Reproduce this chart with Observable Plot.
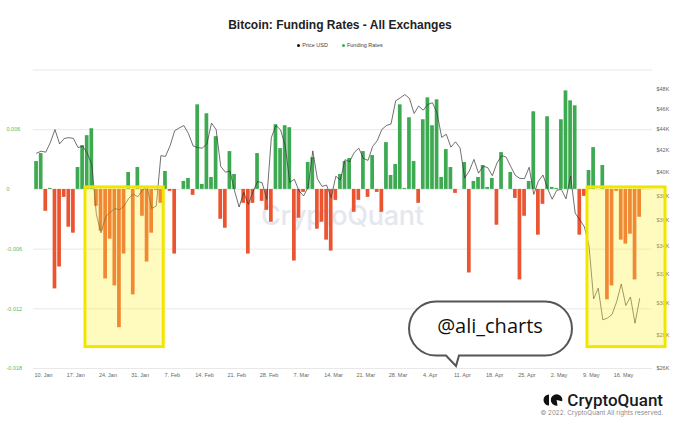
<!DOCTYPE html>
<html>
<head>
<meta charset="utf-8">
<script src="https://cdn.jsdelivr.net/npm/d3@7"></script>
<script src="https://cdn.jsdelivr.net/npm/@observablehq/plot@0.6"></script>
<style>
  html, body { margin: 0; padding: 0; background: #fff; }
  #wrap { position: relative; width: 680px; height: 428px; overflow: hidden; font-family: "Liberation Sans", Arial, sans-serif; }
  .layer { position: absolute; left: 0; top: 0; }
  .layer svg { max-width: none !important; }
  #title { position: absolute; top: 18px; left: 0; width: 680px; text-align: center; font-weight: bold; font-size: 12px; color: #222; }
  #legend { position: absolute; top: 42px; left: 0; width: 680px; text-align: center; font-size: 5.5px; color: #444; }
  #legend span { margin: 0 7px; }
  #legend i { display: inline-block; width: 3px; height: 3px; border-radius: 50%; margin-right: 2px; vertical-align: middle; }
  #wm { position: absolute; left: 261px; top: 199px; font-family: Inter, "Open Sans", sans-serif; font-weight: 500; font-size: 27px; color: #e5e7ee; letter-spacing: -0.3px; }
  #logo { position: absolute; right: 17px; top: 390px; display: flex; align-items: center; }
  #logo span { font-family: Roboto, "Open Sans", sans-serif; font-weight: 500; font-size: 17px; color: #1b1b1b; margin-left: 4px; line-height: 20px; }
  #copy { position: absolute; right: 17px; top: 409px; font-family: Inter, "Open Sans", sans-serif; font-size: 6.3px; color: #8a8a8a; }
  #bubble-text { position: absolute; left: 410px; width: 160px; top: 312px; text-align: center; font-family: "Open Sans", sans-serif; font-size: 20px; color: #111; }
</style>
</head>
<body>
<div id="wrap">
  <div id="wm">CryptoQuant</div>
  <div id="bars" class="layer"></div>
  <div id="price" class="layer"></div>
  <div id="boxes" class="layer"></div>
  <svg class="layer" width="680" height="428" id="deco">
    <path d="M436 301.5 H545 A24.5 24.5 0 0 1 545 355.5 H459 L456 366 L446 355.5 H436 A24.5 24.5 0 0 1 436 301.5 Z" fill="#fff" stroke="#555" stroke-width="2"/>
  </svg>
  <div id="bubble-text">@ali_charts</div>
  <div id="title">Bitcoin: Funding Rates - All Exchanges</div>
  <div id="legend"><span><i style="background:#111"></i>Price USD</span><span><i style="background:#3daa52"></i>Funding Rates</span></div>
  <div id="logo">
    <svg width="20" height="12" viewBox="0 0 20 12">
      <path d="M6 0.5 A5.5 5.5 0 0 0 6 11.5 Z" fill="#111"/>
      <circle cx="13.6" cy="6" r="5.8" fill="#111"/>
      <path d="M13.6 6 L20 7.5 L20 12 L14.6 12 Z" fill="#fff"/>
    </svg>
    <span>CryptoQuant</span>
  </div>
  <div id="copy">© 2022. CryptoQuant All rights reserved.</div>
</div>
<script>
// ---------- data ----------
const firstDay = "2022-01-08"; // one value per consecutive day, 8 Jan – 19 May 2022

const fundingRates = [
  0.0028, 0.0036, -0.0022, 0.0001, -0.0100, -0.0078, -0.0008, -0.0038, -0.0044, 0.0022,
  0.0044, 0.0054, 0.0061, -0.0017, -0.0042, -0.0090, -0.0050, -0.0097, -0.0139, -0.0065,
  0.0017, -0.0106, 0.0022, -0.0027, -0.0073, -0.0044, -0.0001, -0.0014, 0.0018, -0.0002,
  -0.0065, 0.0000, 0.0008, 0.0011, -0.0006, 0.0085, 0.0005, 0.0076, 0.0012, 0.0053,
  -0.0030, -0.0039, 0.0038, 0.0015, 0.0000, -0.0014, -0.0065, -0.0014, 0.0036, -0.0012,
  -0.0021, -0.0033, 0.0065, 0.0041, 0.0064, 0.0062, -0.0072, -0.0029, -0.0003, 0.0027,
  0.0032, -0.0040, -0.0033, -0.0051, -0.0062, -0.0011, 0.0015, 0.0028, 0.0031, -0.0023,
  -0.0011, 0.0038, -0.0008, 0.0034, -0.0003, -0.0023, 0.0047, 0.0014, 0.0025, 0.0085,
  0.0001, 0.0072, 0.0028, -0.0014, 0.0070, 0.0092, 0.0064, 0.0090, 0.0012, 0.0040,
  0.0022, -0.0004, 0.0000, 0.0027, -0.0084, 0.0008, 0.0012, 0.0024, 0.0002, 0.0011,
  -0.0036, 0.0037, 0.0000, 0.0017, -0.0009, -0.0091, -0.0027, 0.0008, 0.0078, -0.0046,
  -0.0015, 0.0073, 0.0002, 0.0001, 0.0070, 0.0099, 0.0089, 0.0084, -0.0046, -0.0007,
  0.0019, 0.0042, 0.0000, 0.0024, -0.0111, -0.0097, -0.0002, -0.0051, -0.0055, -0.0045,
  -0.0091, -0.0028
];

const priceUSD = [
  41734, 41912, 41822, 42736, 43949, 42592, 43099, 43178, 43113, 42250, 42375, 41744, 40681, 36457, 35030, 36276, 36654, 36954, 36852, 37138, 37784, 38138, 37917, 38483,
  38743, 36952, 37155, 41501, 41441, 42412, 43840, 44118, 44338, 43565, 42408, 42244, 42197, 42586, 44575, 43961, 40538, 40030, 40122, 38431, 37075, 38286, 37296, 38332, 39214, 39105, 37710, 43193,
  44354, 43924, 42451, 39138, 39400, 38420, 37988, 38730, 41941, 39437, 38794, 38904, 37849, 39666, 39338, 41143, 40951, 41801, 42191, 41247, 41077, 42358, 42892, 43960, 44349, 44500, 46820, 47128, 47465, 47062, 45538,
  46281, 45868, 46453, 46622, 45555, 43206, 43503, 42287, 42782, 42207, 39521, 40127, 41166, 39936, 40553, 40424, 39716, 40827, 41503, 41374, 40527, 39741, 39478, 39469, 40458, 38117, 39241, 39773, 38610, 37714,
  38469, 38529, 37750, 39698, 36575, 36040, 35501, 34059, 30297, 31022, 28936, 29047, 29283, 30102, 31306, 29863, 30425, 28721, 30314
];

const xTickDates = ["2022-01-10", "2022-01-17", "2022-01-24", "2022-01-31", "2022-02-07", "2022-02-14", "2022-02-21", "2022-02-28",
  "2022-03-07", "2022-03-14", "2022-03-21", "2022-03-28", "2022-04-04", "2022-04-11", "2022-04-18", "2022-04-25",
  "2022-05-02", "2022-05-09", "2022-05-16"];
const fundingTickValues = [-0.018, -0.012, -0.006, 0, 0.006];
const fundingGridValues = [-0.018, -0.012, -0.006, 0, 0.006, 0.012];
const priceTickValues = [26000, 28000, 30000, 32000, 34000, 36000, 38000, 40000, 42000, 44000, 46000, 48000];

// highlighted periods (annotation boxes)
const highlightStart = ["2022-01-19T03:00Z", "2022-05-08T04:00Z"];
const highlightEnd = ["2022-02-05T03:00Z", "2022-05-25T03:00Z"];
const highlightTop = [0.0002, 0.0002];
const highlightBottom = [-0.01585, -0.01585];

// ---------- build ----------
const GREEN = "#3daa52", RED = "#ea5430";
const W = 680, H = 428, mL = 33, mR = 28, mT = 69.5, mB = 60;
const xDomain = [new Date(Date.UTC(2022, 0, 7, 20)), new Date(Date.UTC(2022, 4, 22, 7))];
const day0 = new Date(firstDay + "T00:00Z");
const rows = fundingRates.map((rate, i) => {
  const start = d3.utcDay.offset(day0, i);
  return {start, end: d3.utcDay.offset(start, 1), mid: d3.utcHour.offset(start, 12), rate, price: priceUSD[i]};
});
const boxes = highlightStart.map((s, i) => ({x1: new Date(s), x2: new Date(highlightEnd[i]), y1: highlightBottom[i], y2: highlightTop[i]}));
const xTicks = xTickDates.map(s => new Date(s + "T00:00Z"));
const fmtDate = d3.utcFormat("%-d. %b");
const common = {
  width: W, height: H, marginLeft: mL, marginRight: mR, marginTop: mT, marginBottom: mB,
  style: {background: "transparent", overflow: "visible", fontFamily: "Liberation Sans, Arial, sans-serif"}
};

const barsPlot = Plot.plot({
  ...common,
  x: {type: "utc", domain: xDomain, axis: null},
  y: {domain: [-0.018, 0.012], axis: null},
  marks: [
    Plot.gridY(fundingGridValues, {stroke: "#e8e8e8", strokeOpacity: 1, strokeWidth: 1}),
    Plot.rectY(rows, {x1: "start", x2: "end", y: "rate", fill: d => d.rate >= 0 ? GREEN : RED, insetLeft: 0.45, insetRight: 0.45}),
    Plot.axisY(fundingTickValues, {anchor: "left", tickSize: 0, tickFormat: d => String(d), textAnchor: "start", dx: -18, fill: "#5cb85c", fontSize: 5.5, label: null}),
    Plot.axisX(xTicks, {anchor: "bottom", tickSize: 0, tickPadding: 4.5, tickFormat: fmtDate, fill: "#666", fontSize: 5.5, label: null})
  ]
});
document.getElementById("bars").appendChild(barsPlot);

const pricePlot = Plot.plot({
  ...common,
  x: {type: "utc", domain: xDomain, axis: null},
  y: {type: "log", domain: [26000, 50100], axis: null},
  marks: [
    Plot.line(rows, {x: "mid", y: "price", stroke: "#333", strokeWidth: 0.7}),
    Plot.axisY(priceTickValues, {anchor: "right", tickSize: 0, tickPadding: 4, tickFormat: d => "$" + d / 1000 + "K", fill: "#666", fontSize: 5.5, label: null})
  ]
});
document.getElementById("price").appendChild(pricePlot);

const boxPlot = Plot.plot({
  ...common,
  x: {type: "utc", domain: xDomain, axis: null},
  y: {domain: [-0.018, 0.012], axis: null},
  marks: [
    Plot.rect(boxes, {x1: "x1", x2: "x2", y1: "y1", y2: "y2", fill: "#fff23c", fillOpacity: 0.33}),
    Plot.rect(boxes, {x1: "x1", x2: "x2", y1: "y1", y2: "y2", fill: "none", stroke: "#f1e600", strokeWidth: 3})
  ]
});
document.getElementById("boxes").appendChild(boxPlot);
</script>
</body>
</html>
